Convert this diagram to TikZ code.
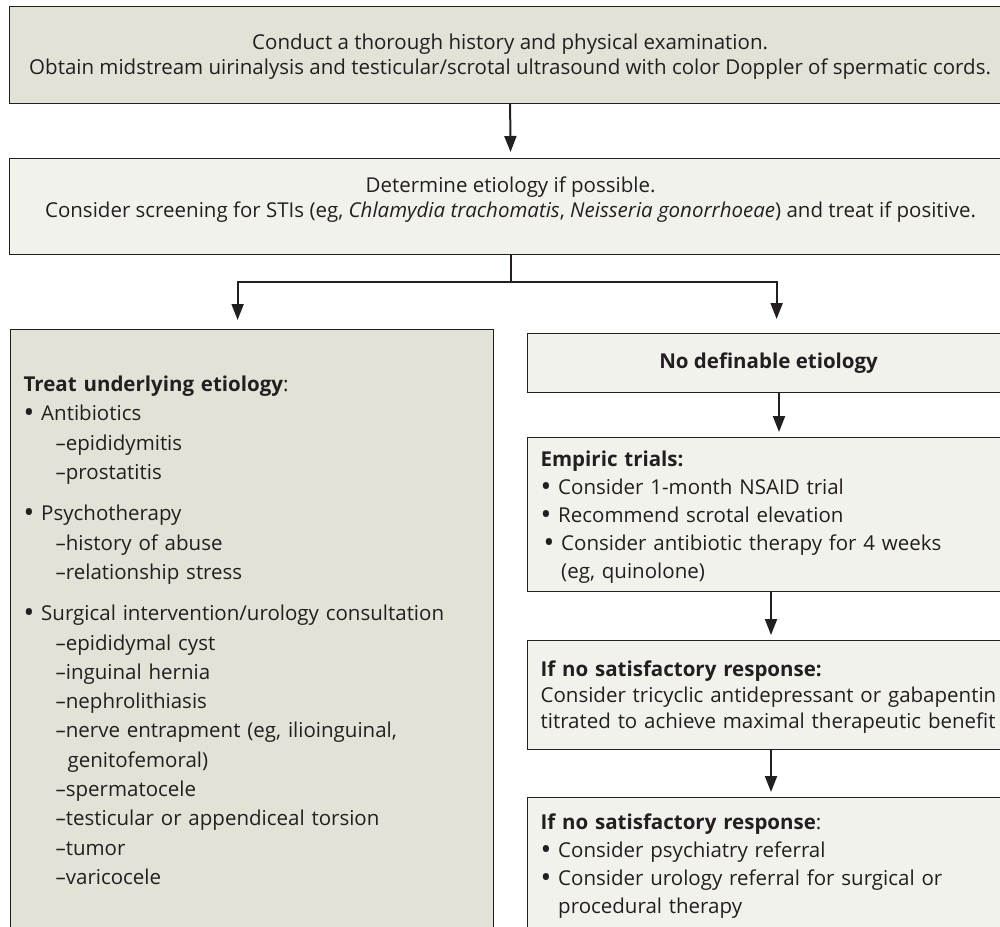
\documentclass[tikz,border=0pt]{standalone}
\usepackage{fontspec}
\setmainfont{Open Sans}
\usetikzlibrary{arrows.meta,positioning}

\definecolor{ink}{HTML}{231F20}
\definecolor{darkfill}{HTML}{E3E2D7}
\definecolor{lightfill}{HTML}{F2F2EC}

\newcommand{\indentline}[1]{\hspace*{32pt}#1}
\newcommand{\bul}{\raisebox{-1.4pt}{\scalebox{1.4}{•}}\ }

\tikzset{
  box/.style={draw=ink, line width=1.2pt, text=ink, inner ysep=0pt, inner xsep=13pt,
    anchor=north west, font=\fontsize{20.5}{28}\selectfont},
  darkbox/.style={box, fill=darkfill},
  lightbox/.style={box, fill=lightfill},
  link/.style={draw=ink, line width=2pt},
  flow/.style={link, -{Triangle[length=16pt,width=12pt]}}
}

\begin{document}
\begin{tikzpicture}[x=1pt,y=-1pt]
\useasboundingbox (0,0) rectangle (1000,926);
\fill[white] (0,0) rectangle (1000,926);
\clip (0,0) rectangle (1000,926);

% top row
\node[darkbox, minimum width=1001pt, text height=68pt, text depth=29pt, align=center,
  font=\fontsize{20.5}{25}\selectfont] (exam) at (9,6)
  {Conduct a thorough history and physical examination.\\
   Obtain midstream uirinalysis and testicular/scrotal ultrasound with color Doppler of spermatic cords.};
\node[lightbox, minimum width=1002pt, text height=59pt, text depth=37pt, align=center,
  font=\fontsize{20.5}{25}\selectfont] (etio) at (9,158)
  {Determine etiology if possible.\\
   Consider screening for STIs (eg, \textit{Chlamydia trachomatis}, \textit{Neisseria gonorrhoeae}) and treat if positive.};

% left branch
\node[darkbox, text width=457pt, align=left, text height=62pt, text depth=660pt,
  font=\fontsize{20.5}{29.3}\selectfont] (treat) at (10,329)
  {\textbf{Treat underlying etiology}:\\
   \bul Antibiotics\\
   \indentline{–epididymitis}\\
   \indentline{–prostatitis}\\[12pt]
   \bul Psychotherapy\\
   \indentline{–history of abuse}\\
   \indentline{–relationship stress}\\[12pt]
   \bul Surgical intervention/urology consultation\\
   \indentline{–epididymal cyst}\\
   \indentline{–inguinal hernia}\\
   \indentline{–nephrolithiasis}\\
   \indentline{–nerve entrapment (eg, ilioinguinal,}\\
   \indentline{\hspace*{12pt}genitofemoral)}\\
   \indentline{–spermatocele}\\
   \indentline{–testicular or appendiceal torsion}\\
   \indentline{–tumor}\\
   \indentline{–varicocele}};

% right branch
\node[lightbox, minimum width=482pt, minimum height=59pt, align=center] (nde) at (527,333)
  {\textbf{No definable etiology}};
\node[lightbox, text width=487pt, align=left, text height=29pt, text depth=125pt] (emp) at (527,437)
  {\textbf{Empiric trials:}\\
   \bul Consider 1-month NSAID trial\\
   \bul Recommend scrotal elevation\\
   \hspace*{3pt}\bul Consider antibiotic therapy for 4 weeks\\
   \hspace*{3pt}\phantom{\bul}(eg, quinolone)};
\node[lightbox, text width=487pt, align=left, text height=36pt, text depth=73pt,
  font=\fontsize{20.5}{26}\selectfont] (tca) at (527,640)
  {\textbf{If no satisfactory response:}\\
   Consider tricyclic antidepressant or gabapentin\\
   titrated to achieve maximal therapeutic benefit};
\node[lightbox, text width=487pt, align=left, text height=32pt, text depth=200pt] (refer) at (527,797)
  {\textbf{If no satisfactory response}:\\
   \bul Consider psychiatry referral\\
   \bul Consider urology referral for surgical or\\
   \phantom{\bul}procedural therapy};

% connectors
\draw[flow, shorten >=6pt] (exam.south) -- (etio.north);
\draw[link] (etio.south) -- ++(0,27) coordinate (fork);
\draw[flow] (fork) -| ([xshift=-14.5pt,yshift=9pt]treat.north);
\draw[flow] (fork) -| ([xshift=8pt,yshift=14pt]nde.north);
\draw[flow] ([xshift=252pt]nde.south west) -- ([xshift=252pt,yshift=5pt]emp.north west);
\draw[flow] ([xshift=244pt]emp.south west) -- ([xshift=244pt,yshift=5pt]tca.north west);
\draw[flow] ([xshift=244pt]tca.south west) -- ([xshift=244pt,yshift=5pt]refer.north west);
\end{tikzpicture}
\end{document}
